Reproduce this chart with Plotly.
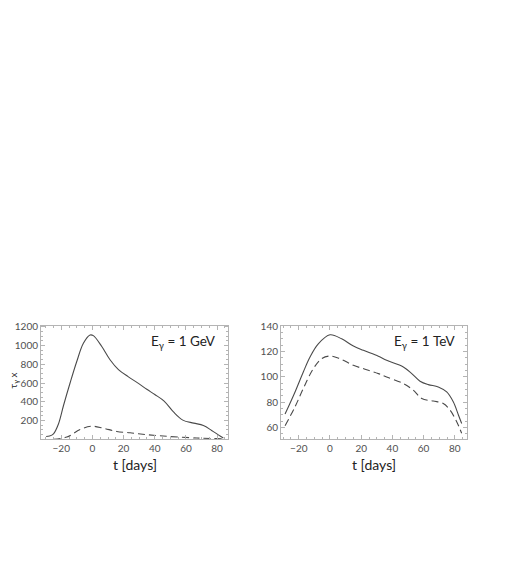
import plotly.graph_objects as go
from plotly.subplots import make_subplots

# E = 1 GeV panel
t_gev = [-29.7, -27.5, -25, -21.8, -18.6, -14.3, -10, -5.8, -1.5, 0.6, 6, 11.3,
         16.7, 23.1, 29.5, 34.9, 40, 46, 52, 58, 65, 71.2, 76.5, 80.8, 84]
solid_gev = [30, 35, 59, 164, 358, 603, 832, 1024, 1112, 1105, 989, 848,
             743, 666, 596, 533, 478, 408, 292, 205, 173, 147, 95, 48, 14]
t_gev_d = [-25, -16.4, -7.9, -0.4, 7, 15.6, 24.2, 29.5, 45.5, 67, 84]
dashed_gev = [0, 24, 105, 140, 119, 84, 70, 59, 35, 14, 5]

# E = 1 TeV panel
t_tev = [-28.8, -22.4, -17.1, -12.8, -7.5, 0, 7.5, 15, 21.4, 31, 36.3, 47, 52.4,
         57.7, 63, 69.4, 74.8, 79, 82.3, 84.4]
solid_tev = [70.5, 88, 103.8, 115.6, 126, 133.2, 130, 124.3, 120.9, 116.2, 113,
             107.8, 102.5, 96.5, 93.8, 92, 88, 80.2, 69.8, 63]
t_tev_d = [-28.8, -22.4, -17.1, -10.7, -5.3, 0, 6.4, 15, 23.5, 31, 36.3, 47, 53.4,
           58.8, 66.2, 72.6, 76.9, 81.2, 84.4]
dashed_tev = [61.3, 76.3, 90.7, 106.4, 114.3, 116.4, 114.3, 109.1, 105.6, 102.5,
              99.9, 94.6, 89.4, 82.8, 80.8, 78.9, 73.7, 64.5, 55.3]

x_ticks = [-20, 0, 20, 40, 60, 80]
y_ticks_gev = [200, 400, 600, 800, 1000, 1200]
y_ticks_tev = [60, 80, 100, 120, 140]

line_col = "#4a4a4a"
frame_col = "#b4b4b4"
font_fam = "Lato, Liberation Sans, sans-serif"

# page body keeps an 8px margin, so the figure is 8px smaller than the window
W, H = 510, 555

fig = make_subplots(rows=1, cols=2)

fig.add_trace(go.Scatter(x=t_gev, y=solid_gev, mode="lines", line_shape="spline",
                         line=dict(color=line_col, width=1.1)), row=1, col=1)
fig.add_trace(go.Scatter(x=t_gev_d, y=dashed_gev, mode="lines", line_shape="spline",
                         line=dict(color=line_col, width=1.1, dash="7px,4px")), row=1, col=1)
fig.add_trace(go.Scatter(x=t_tev, y=solid_tev, mode="lines", line_shape="spline",
                         line=dict(color=line_col, width=1.1)), row=1, col=2)
fig.add_trace(go.Scatter(x=t_tev_d, y=dashed_tev, mode="lines", line_shape="spline",
                         line=dict(color=line_col, width=1.1, dash="7px,4px")), row=1, col=2)

axis_style = dict(showline=True, linecolor=frame_col, linewidth=1, mirror="ticks",
                  ticks="inside", ticklen=4, tickcolor=frame_col, showgrid=False,
                  zeroline=False, tickfont=dict(family=font_fam, size=10, color="#505050"),
                  minor=dict(ticks="inside", ticklen=2, tickcolor=frame_col, nticks=5))

fig.update_xaxes(axis_style)
fig.update_yaxes(axis_style)

fig.update_xaxes(domain=[33 / W, 220 / W], range=[-33, 87], tickvals=x_ticks, row=1, col=1)
fig.update_xaxes(domain=[273 / W, 459.3 / W], range=[-31.4, 88], tickvals=x_ticks, row=1, col=2)
fig.update_yaxes(domain=[1 - 430 / H, 1 - 315 / H], range=[0, 1212], tickvals=y_ticks_gev,
                 row=1, col=1)
fig.update_yaxes(domain=[1 - 430 / H, 1 - 315 / H], range=[50.5, 140.5], tickvals=y_ticks_tev,
                 row=1, col=2)

title_font = dict(family=font_fam, size=14, color="#222")
for xref in ["x domain", "x2 domain"]:
    fig.add_annotation(x=0.5, y=1 - 445 / H, xref=xref, yref="paper", xanchor="center",
                       yanchor="top", showarrow=False, text="t [days]", font=title_font)

fig.add_annotation(x=-2 / W, y=1 - 371 / H, xref="paper", yref="paper", xanchor="left",
                   yanchor="middle", showarrow=False, textangle=-90, borderpad=0,
                   text="τ<sub>γ</sub> x", font=dict(family=font_fam, size=10, color="#222"))
fig.add_annotation(x=0.947, y=0.95, xref="x domain", yref="y domain", xanchor="right",
                   yanchor="top", showarrow=False,
                   text="E<sub>γ</sub> = 1 GeV", font=dict(family=font_fam, size=13.5, color="#222"))
fig.add_annotation(x=0.943, y=0.95, xref="x2 domain", yref="y2 domain", xanchor="right",
                   yanchor="top", showarrow=False,
                   text="E<sub>γ</sub> = 1 TeV", font=dict(family=font_fam, size=13.5, color="#222"))

fig.update_layout(width=W, height=H, margin=dict(l=0, r=0, t=0, b=0),
                  paper_bgcolor="white", plot_bgcolor="white", showlegend=False)

fig.write_html("out.html")
